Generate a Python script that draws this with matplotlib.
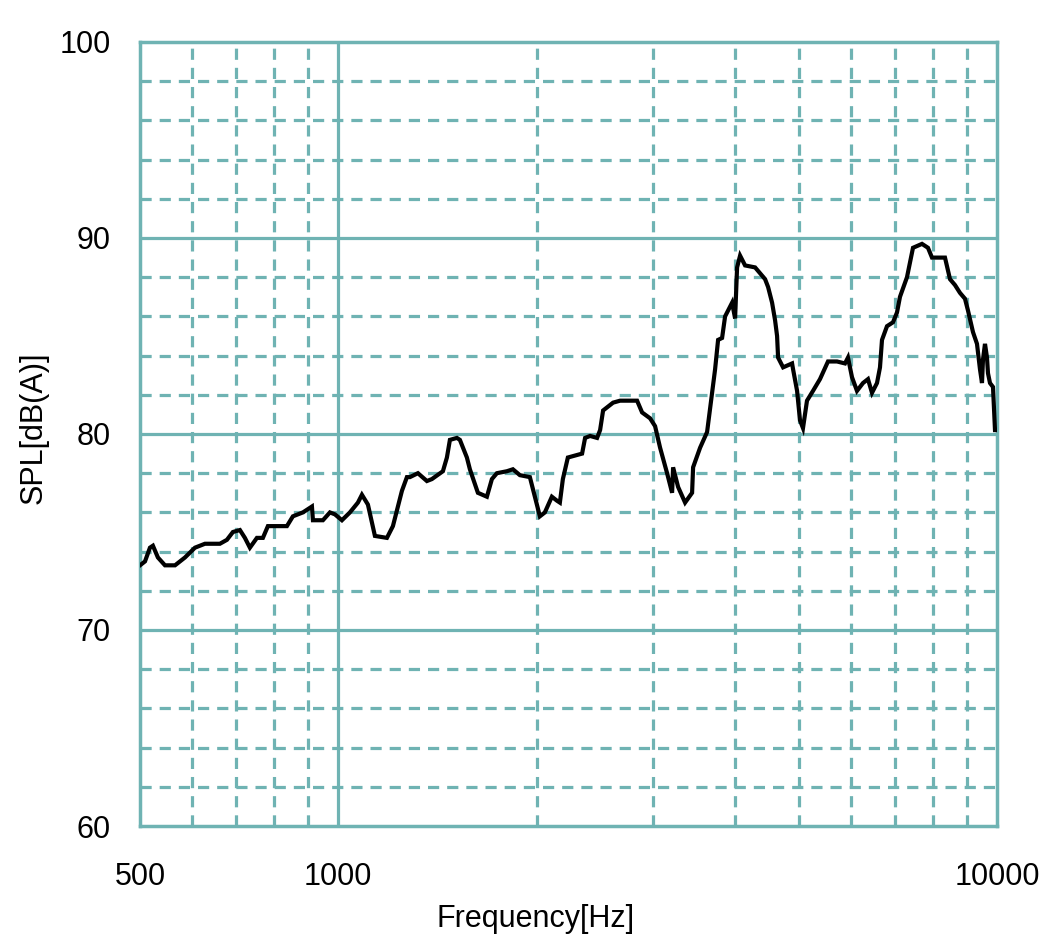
import numpy as np
from matplotlib import pyplot as plt
from matplotlib.ticker import FixedLocator, NullFormatter

plt.rcParams['font.family'] = ['Liberation Sans', 'DejaVu Sans']

#---- data

freq = [500, 508.8, 517.7, 523.1, 532.3, 545.6, 565.1, 585.1, 605.9, 627.4,
        661.1, 677.5, 691.9, 709.0, 721.5, 734.2, 752.4, 768.3, 781.9, 806.9,
        835.6, 853.3, 883.7, 912.0, 915.2, 947.7, 971.2, 988.3, 1012.8, 1041.5,
        1071.0, 1086.1, 1109.1, 1136.6, 1185.3, 1210.4, 1227.5, 1249.1, 1271.1, 1284.5,
        1320.9, 1363.1, 1387.1, 1441.5, 1461.8, 1477.2, 1513.8, 1529.7, 1567.6, 1584.1,
        1629.0, 1681.1, 1710.8, 1740.9, 1802.8, 1841.0, 1886.6, 1953.7, 1988.1, 2023.1,
        2058.8, 2109.8, 2147.0, 2169.6, 2192.5, 2231.1, 2344.9, 2369.6, 2411.4, 2471.1,
        2497.2, 2523.5, 2613.3, 2678.0, 2841.9, 2892.0, 2974.0, 3026.4, 3079.8, 3156.1,
        3211.8, 3223.1, 3279.9, 3361.1, 3444.4, 3456.5, 3542.1, 3629.8, 3693.8, 3732.7,
        3772.0, 3825.2, 3865.5, 3961.2, 4003.0, 4031.1, 4073.5, 4145.3, 4292.8, 4445.4,
        4492.4, 4555.6, 4603.6, 4635.9, 4652.2, 4734.2, 4885.5, 4902.6, 4971.6, 5022.5,
        5075.4, 5146.9, 5256.0, 5386.3, 5539.0, 5715.9, 5877.9, 5939.9, 6023.5, 6129.7,
        6259.6, 6370.0, 6459.8, 6573.7, 6643.0, 6689.7, 6807.6, 6951.9, 7049.7, 7124.1,
        7300.5, 7455.3, 7693.5, 7856.6, 7967.3, 8337.6, 8484.6, 8634.1, 8786.4, 8941.3,
        9035.5, 9194.8, 9324.2, 9422.6, 9488.8, 9521.9, 9588.8, 9656.1, 9689.9, 9758.0,
        9860.9, 9930.1, 10000]

spl = [73.3, 73.5, 74.2, 74.3, 73.7, 73.3, 73.3, 73.7, 74.2, 74.4,
       74.4, 74.6, 75.0, 75.1, 74.7, 74.2, 74.7, 74.7, 75.3, 75.3,
       75.3, 75.8, 76.0, 76.3, 75.6, 75.6, 76.0, 75.9, 75.6, 76.0,
       76.5, 76.9, 76.4, 74.8, 74.7, 75.3, 76.1, 77.1, 77.8, 77.8,
       78.0, 77.6, 77.7, 78.1, 78.8, 79.7, 79.8, 79.7, 78.8, 78.2,
       77.0, 76.8, 77.7, 78.0, 78.1, 78.2, 77.9, 77.8, 76.8, 75.8,
       76.0, 76.8, 76.6, 76.5, 77.7, 78.8, 79.0, 79.8, 79.9, 79.8,
       80.2, 81.2, 81.6, 81.7, 81.7, 81.1, 80.8, 80.4, 79.3, 78.0,
       77.0, 78.3, 77.3, 76.5, 77.0, 78.3, 79.3, 80.1, 82.1, 83.3,
       84.8, 84.9, 86.0, 86.7, 85.9, 88.5, 89.1, 88.6, 88.5, 87.9,
       87.5, 86.7, 85.8, 85.0, 83.9, 83.4, 83.6, 83.3, 82.2, 80.7,
       80.3, 81.7, 82.2, 82.8, 83.7, 83.7, 83.6, 83.9, 82.9, 82.2,
       82.6, 82.8, 82.1, 82.6, 83.4, 84.8, 85.5, 85.7, 86.2, 87.0,
       88.0, 89.5, 89.7, 89.5, 89.0, 89.0, 87.9, 87.6, 87.2, 86.9,
       86.3, 85.2, 84.6, 83.3, 82.6, 83.8, 84.6, 83.9, 83.1, 82.6,
       82.4, 80.2, 80.2]

x_labels = ['500', '1000', '10000']
x_major = [500, 1000, 10000]
x_minor = [600, 700, 800, 900, 2000, 3000, 4000, 5000, 6000, 7000, 8000, 9000]
y_major = [60, 70, 80, 90, 100]
y_minor = [62, 64, 66, 68, 72, 74, 76, 78, 82, 84, 86, 88, 92, 94, 96, 98]

grid_c = '#6fb3b3'

#---- figure

fig = plt.figure(figsize=(10.41, 9.38), dpi=100)
ax = fig.add_axes([140/1041, 1 - 826/938, 857/1041, 784/938])

ax.set_xscale('log')
ax.set_xlim(500, 10000)
ax.set_ylim(60, 100)

ax.xaxis.set_major_locator(FixedLocator(x_major))
ax.xaxis.set_minor_locator(FixedLocator(x_minor))
ax.xaxis.set_minor_formatter(NullFormatter())
ax.set_xticklabels(x_labels)
ax.yaxis.set_major_locator(FixedLocator(y_major))
ax.yaxis.set_minor_locator(FixedLocator(y_minor))

# grid: solid majors, dashed minors
dash = (0, (3.5, 2.5))
ax.axvline(1000, color=grid_c, lw=2.3, zorder=1)
for v in x_minor:
    ax.axvline(v, color=grid_c, lw=2.3, ls=dash, zorder=1)
for v in [70, 80, 90]:
    ax.axhline(v, color=grid_c, lw=2.3, zorder=1)
for v in y_minor:
    ax.axhline(v, color=grid_c, lw=2.3, ls=dash, zorder=1)

ax.plot(freq, spl, color='black', lw=3.0, zorder=3, solid_joinstyle='miter')

for s in ax.spines.values():
    s.set_color(grid_c)
    s.set_linewidth(2.5)

ax.tick_params(which='both', length=0)
ax.tick_params(axis='x', pad=26, labelsize=22)
ax.tick_params(axis='y', pad=21, labelsize=22)

ax.set_xlabel('Frequency[Hz]', fontsize=22)
ax.set_ylabel('SPL[dB(A)]', fontsize=22)
ax.xaxis.set_label_coords(0.461, -0.119)
ax.yaxis.set_label_coords(-0.124, 0.508)
ax.xaxis.label.set_va('center')
ax.yaxis.label.set_va('center')

plt.savefig('out.png', dpi=100)
